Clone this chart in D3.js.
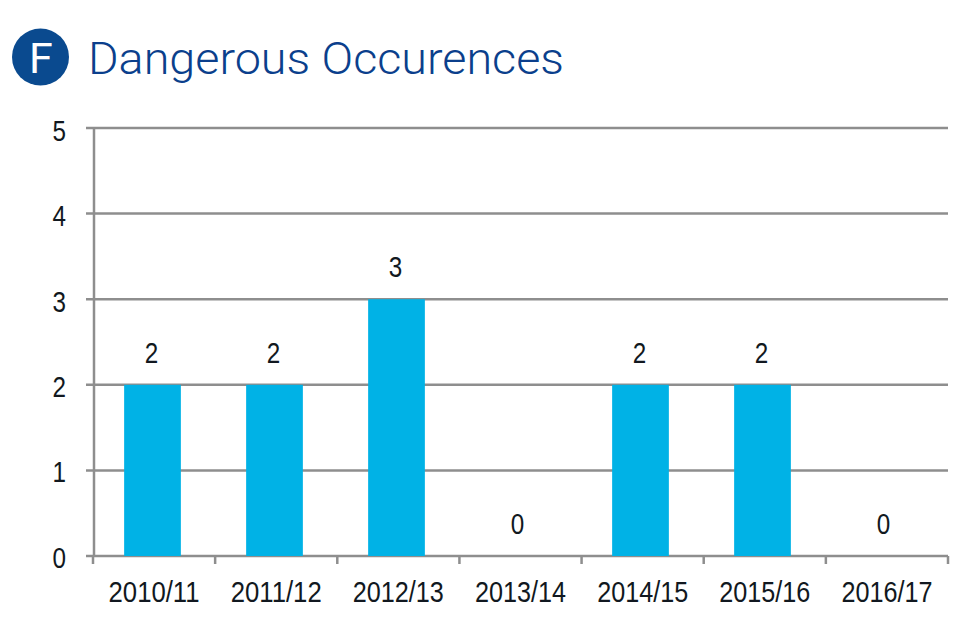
<!DOCTYPE html>
<html><head><meta charset="utf-8">
<script src="https://cdn.jsdelivr.net/npm/d3@7"></script>
<style>html,body{margin:0;padding:0;background:#fff}svg{display:block}text{font-family:"Liberation Sans",Arial,sans-serif}</style>
</head><body><svg id="c" width="960" height="640"></svg>
<script>
const categories = ["2010/11","2011/12","2012/13","2013/14","2014/15","2015/16","2016/17"];
const values = [2,2,3,0,2,2,0];
const yTicks = [0,1,2,3,4,5];
const titleText = "Dangerous Occurences";
const badgeText = "F";

const svg = d3.select("#c");
const plotLeft = 94, plotRight = 948, plotTop = 128, plotBottom = 556;
const xBars = d3.scaleBand().domain(categories).range([plotLeft-2.5,plotRight-2.5]).paddingInner(0.535).paddingOuter(0.2675);
const xOuter = d3.scaleBand().domain(categories).range([plotLeft-1,plotRight]);
const y = d3.scaleLinear().domain([0,5]).range([plotBottom,plotTop]);
const yLabel = d3.scaleLinear().domain([0,5]).range([567.5,141]);
const grid = "#8e8e8e";
const ink = "#111820";

svg.append("circle").attr("cx",40.5).attr("cy",57).attr("r",28.5).attr("fill","#0a4a8f");
svg.append("text").attr("x",41).attr("y",72.5).attr("text-anchor","middle").attr("font-size",43)
  .style("font-family","Roboto").style("font-weight",400).attr("fill","#fff").text(badgeText);
svg.append("text").attr("x",88).attr("y",73.5).attr("font-size",45).attr("fill","#0b3f8c")
  .style("font-family","Roboto").style("font-weight",300)
  .attr("textLength",476).attr("lengthAdjust","spacingAndGlyphs").text(titleText);

svg.append("g").selectAll("line").data(yTicks).join("line")
  .attr("x1",plotLeft-8).attr("x2",plotRight).attr("y1",d=>y(d)).attr("y2",d=>y(d))
  .attr("stroke",grid).attr("stroke-width",2.5);
svg.append("line").attr("x1",plotLeft).attr("x2",plotLeft).attr("y1",plotTop).attr("y2",plotBottom).attr("stroke",grid).attr("stroke-width",2.5);

svg.append("g").selectAll("rect").data(values).join("rect")
  .attr("x",(d,i)=>xBars(categories[i])).attr("width",xBars.bandwidth())
  .attr("y",d=>y(d)).attr("height",d=>y(0)-y(d)).attr("fill","#00b2e6");

svg.append("g").selectAll("line").data(d3.range(categories.length+1)).join("line")
  .attr("x1",i=>plotLeft-1+i*xOuter.step()).attr("x2",i=>plotLeft-1+i*xOuter.step())
  .attr("y1",plotBottom).attr("y2",plotBottom+8).attr("stroke",grid).attr("stroke-width",2.5);

svg.append("g").selectAll("text").data(yTicks).join("text")
  .attr("x",66).attr("y",d=>yLabel(d)).attr("text-anchor","end").attr("font-size",29).attr("fill",ink)
  .attr("textLength",13.5).attr("lengthAdjust","spacingAndGlyphs").text(d=>d);
svg.append("g").selectAll("text").data(categories).join("text")
  .attr("x",d=>xOuter(d)+xOuter.bandwidth()/2).attr("y",602).attr("text-anchor","middle").attr("font-size",29).attr("fill",ink)
  .attr("textLength",91).attr("lengthAdjust","spacingAndGlyphs").text(d=>d);
svg.append("g").selectAll("text").data(values).join("text")
  .attr("x",(d,i)=>xBars(categories[i])+xBars.bandwidth()/2-1).attr("y",d=>y(d)-22).attr("text-anchor","middle").attr("font-size",29).attr("fill",ink)
  .attr("textLength",13.5).attr("lengthAdjust","spacingAndGlyphs").text(d=>d);
</script></body></html>
